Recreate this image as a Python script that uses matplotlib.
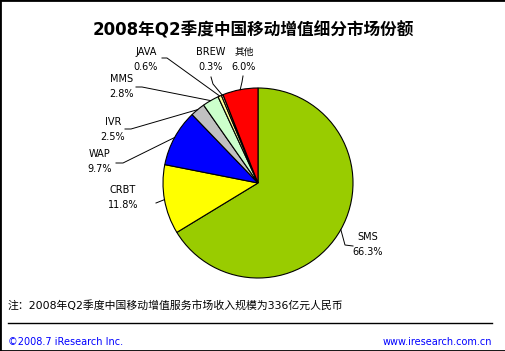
import numpy as np
import matplotlib
matplotlib.use("Agg")
import matplotlib.pyplot as plt
from matplotlib.patches import Rectangle

plt.rcParams['font.family'] = ['DejaVu Sans', 'Noto Sans CJK SC']

# ---- data ----
categories = ['SMS', 'CRBT', 'WAP', 'IVR', 'MMS', 'JAVA', 'BREW', '其他']
shares = [66.3, 11.8, 9.7, 2.5, 2.8, 0.6, 0.3, 6.0]
colors = ['#99CC00', '#FFFF00', '#0000FF', '#C0C0C0', '#CCFFCC', '#FFFF99', '#FFCC99', '#FF0000']
title = '2008年Q2季度中国移动增值细分市场份额'
note = '注：2008年Q2季度中国移动增值服务市场收入规模为336亿元人民币'
footer_left = '©2008.7 iResearch Inc.'
footer_right = 'www.iresearch.com.cn'

W, H = 506, 351
fig = plt.figure(figsize=(W / 100, H / 100), dpi=100)
ax = fig.add_axes([0, 0, 1, 1])

def Y(py):
    return H - py

cx, cy, R = 258, Y(183), 95
wedges, _ = ax.pie(shares, colors=colors, startangle=90, counterclock=False,
                   center=(cx, cy), radius=R,
                   wedgeprops=dict(edgecolor='black', linewidth=0.8))
ax.set_xlim(0, W)
ax.set_ylim(0, H)
ax.set_aspect('auto')
ax.axis('off')

# label layout: (text center x, first row y, leader path start points in pixel coords)
layout = {
    'SMS':  (368, 237, [(353, 246), (345, 245)]),
    'CRBT': (123, 190, [(156, 203)]),
    'WAP':  (100, 154, [(116, 163), (123, 163)]),
    'IVR':  (113, 122, [(125, 129), (131, 129)]),
    'MMS':  (122, 79,  [(136, 87), (142, 87)]),
    'JAVA': (146, 52,  [(162, 58), (167, 58)]),
    'BREW': (211, 52,  [(211, 77), (213, 84)]),
    '其他':  (244, 52,  [(243, 76), (242, 82)]),
}

for w, cat, val in zip(wedges, categories, shares):
    tx, ty, path = layout[cat]
    ax.text(tx, Y(ty), cat, ha='center', va='center', fontsize=7)
    ax.text(tx, Y(ty + 15), f'{val:.1f}%', ha='center', va='center', fontsize=7)
    mid = np.deg2rad((w.theta1 + w.theta2) / 2)
    ex, ey = cx + R * np.cos(mid), cy + R * np.sin(mid)
    xs = [p[0] for p in path] + [ex]
    ys = [Y(p[1]) for p in path] + [ey]
    ax.plot(xs, ys, color='black', linewidth=0.7)

ax.text(253, Y(30), title, ha='center', va='center', fontsize=12, fontweight='bold')
ax.text(8, Y(305), note, ha='left', va='center', fontsize=7.8)
ax.plot([8, 492], [Y(323), Y(323)], color='black', linewidth=1)
ax.text(8, Y(342), footer_left, ha='left', va='center', fontsize=7, color='#0000FF')
ax.text(492, Y(342), footer_right, ha='right', va='center', fontsize=7, color='#0000FF')

fig.patches.append(Rectangle((0, 0), 1, 1, transform=fig.transFigure, fill=False,
                             edgecolor='black', linewidth=2))

fig.savefig('out.png', dpi=100)
